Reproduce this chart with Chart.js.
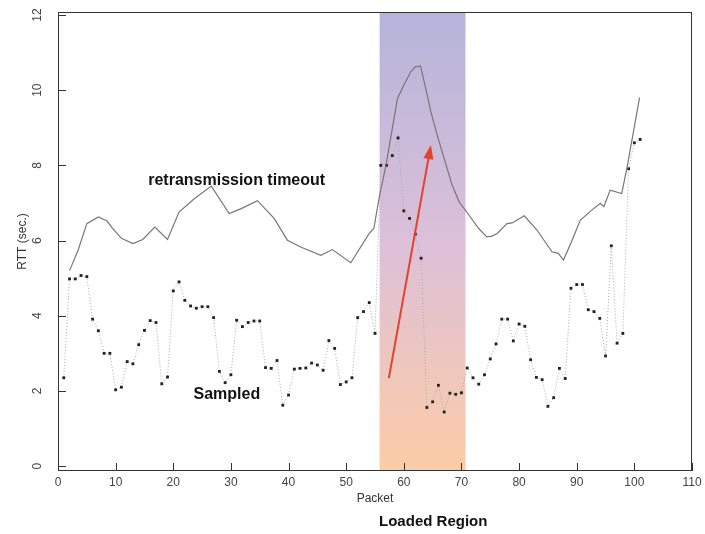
<!DOCTYPE html>
<html>
<head>
<meta charset="utf-8">
<script src="https://cdn.jsdelivr.net/npm/chart.js@4.4.1/dist/chart.umd.min.js"></script>
<style>
  html, body { margin: 0; padding: 0; background: #fff; }
  #wrap { width: 705px; height: 534px; }
</style>
</head>
<body>
<div id="wrap"><canvas id="rttChart" width="705" height="534"></canvas></div>
<script>
// sampled RTT, one value per packet
var packets = [1, 2, 3, 4, 5, 6, 7, 8, 9, 10, 11, 12, 13, 14, 15, 16, 17, 18, 19, 20,
  21, 22, 23, 24, 25, 26, 27, 28, 29, 30, 31, 32, 33, 34, 35, 36, 37, 38, 39, 40,
  41, 42, 43, 44, 45, 46, 47, 48, 49, 50, 51, 52, 53, 54, 55, 56, 57, 58, 59, 60,
  61, 62, 63, 64, 65, 66, 67, 68, 69, 70, 71, 72, 73, 74, 75, 76, 77, 78, 79, 80,
  81, 82, 83, 84, 85, 86, 87, 88, 89, 90, 91, 92, 93, 94, 95, 96, 97, 98, 99, 100, 101];
var sampled = [2.35, 4.98, 4.98, 5.07, 5.04, 3.91, 3.6, 3.0, 3.0, 2.03,
  2.1, 2.78, 2.72, 3.23, 3.61, 3.87, 3.82, 2.19, 2.37, 4.66,
  4.9, 4.41, 4.26, 4.2, 4.24, 4.24, 3.95, 2.52, 2.22, 2.43,
  3.88, 3.71, 3.82, 3.86, 3.86, 2.62, 2.6, 2.81, 1.62, 1.89,
  2.58, 2.6, 2.61, 2.74, 2.69, 2.55, 3.34, 3.13, 2.17, 2.24,
  2.35, 3.95, 4.11, 4.35, 3.53, 8.0, 8.0, 8.26, 8.73, 6.79,
  6.59, 6.17, 5.53, 1.56, 1.71, 2.15, 1.44, 1.94, 1.91, 1.95,
  2.61, 2.35, 2.18, 2.43, 2.85, 3.25, 3.91, 3.91, 3.33, 3.78,
  3.72, 2.83, 2.36, 2.3, 1.59, 1.82, 2.6, 2.33, 4.73, 4.83,
  4.83, 4.16, 4.11, 3.93, 2.93, 5.86, 3.27, 3.53, 7.91, 8.6, 8.69];

// retransmission timeout curve, read at its corners
var rtoPackets = [2, 3.5, 5, 7, 8.5, 9.5, 11, 13, 14.7, 16.8, 19, 21, 23.7, 26.6, 29.7,
  31.8, 34.6, 37.5, 39.8, 42.1, 45.6, 47.6, 50.8, 54, 54.8, 55.7, 56.9, 58, 58.9, 60,
  61.2, 62, 62.9, 63.8, 64.7, 65.8, 67, 68.4, 69.6, 71.3, 73, 74.4, 75.3, 76.2, 77.9,
  78.8, 80.9, 83.1, 85.7, 86.8, 87.7, 89.2, 90.6, 92.6, 94.1, 94.7, 95.8, 97.8, 98.7, 100.9];
var rtoValues = [5.2, 5.75, 6.45, 6.63, 6.52, 6.32, 6.06, 5.92, 6.03, 6.36, 6.03, 6.76, 7.12, 7.45, 6.72,
  6.85, 7.06, 6.59, 6.01, 5.83, 5.61, 5.76, 5.41, 6.19, 6.32, 7.12, 8.0, 8.98, 9.78, 10.13,
  10.49, 10.62, 10.64, 10.05, 9.42, 8.8, 8.18, 7.47, 7.03, 6.68, 6.32, 6.1, 6.12, 6.19, 6.45,
  6.47, 6.66, 6.28, 5.7, 5.66, 5.48, 6.01, 6.54, 6.81, 6.99, 6.9, 7.34, 7.25, 7.92, 9.8];

var xTicks = [0, 10, 20, 30, 40, 50, 60, 70, 80, 90, 100, 110];
var yTicks = [0, 2, 4, 6, 8, 10, 12];
var loadedRegion = [55.8, 70.7];
var arrowFrom = [57.4, 2.34];
var arrowTo = [64.7, 8.54];

var sampledPts = packets.map(function (p, i) { return { x: p, y: sampled[i] }; });
var rtoPts = rtoPackets.map(function (p, i) { return { x: p, y: rtoValues[i] }; });

var annotate = {
  id: "annotate",
  beforeDatasetsDraw: function (chart) {
    var ctx = chart.ctx, a = chart.chartArea, xs = chart.scales.x;
    var x0 = xs.getPixelForValue(loadedRegion[0]);
    var x1 = xs.getPixelForValue(loadedRegion[1]);
    var g = ctx.createLinearGradient(0, a.top, 0, a.bottom);
    g.addColorStop(0, "#b4b4da");
    g.addColorStop(0.5, "#dcc0d9");
    g.addColorStop(1, "#fdcca6");
    ctx.save();
    ctx.fillStyle = g;
    ctx.fillRect(x0, a.top, x1 - x0, a.bottom - a.top);
    ctx.restore();
  },
  afterDraw: function (chart) {
    var ctx = chart.ctx, a = chart.chartArea;
    var xs = chart.scales.x, ys = chart.scales.y;
    ctx.save();
    // frame and inward ticks
    ctx.strokeStyle = "#333";
    ctx.lineWidth = 1;
    ctx.strokeRect(a.left + 0.5, a.top + 0.5, a.right - a.left - 1, a.bottom - a.top - 1);
    ctx.beginPath();
    xTicks.forEach(function (v) {
      var px = Math.round(xs.getPixelForValue(v)) + 0.5;
      ctx.moveTo(px, a.bottom);
      ctx.lineTo(px, a.bottom - 8);
    });
    yTicks.forEach(function (v) {
      var py = Math.round(ys.getPixelForValue(v)) + 0.5;
      ctx.moveTo(a.left, py);
      ctx.lineTo(a.left + 8, py);
    });
    ctx.stroke();

    // red arrow
    var ax = xs.getPixelForValue(arrowFrom[0]), ay = ys.getPixelForValue(arrowFrom[1]);
    var bx = xs.getPixelForValue(arrowTo[0]), by = ys.getPixelForValue(arrowTo[1]);
    var ang = Math.atan2(by - ay, bx - ax);
    ctx.strokeStyle = "#e5412d";
    ctx.fillStyle = "#e5412d";
    ctx.lineWidth = 2;
    ctx.beginPath();
    ctx.moveTo(ax, ay);
    ctx.lineTo(bx - 10 * Math.cos(ang), by - 10 * Math.sin(ang));
    ctx.stroke();
    ctx.beginPath();
    ctx.moveTo(bx, by);
    ctx.lineTo(bx - 14 * Math.cos(ang) + 5 * Math.sin(ang), by - 14 * Math.sin(ang) - 5 * Math.cos(ang));
    ctx.lineTo(bx - 14 * Math.cos(ang) - 5 * Math.sin(ang), by - 14 * Math.sin(ang) + 5 * Math.cos(ang));
    ctx.closePath();
    ctx.fill();

    // labels
    ctx.fillStyle = "#111";
    ctx.textAlign = "center";
    ctx.textBaseline = "middle";
    ctx.font = "bold 16px 'Liberation Sans', Arial, sans-serif";
    ctx.fillText("retransmission timeout", xs.getPixelForValue(31), ys.getPixelForValue(7.6));
    ctx.fillText("Sampled", xs.getPixelForValue(29.3), ys.getPixelForValue(1.89));
    ctx.font = "bold 15px 'Liberation Sans', Arial, sans-serif";
    ctx.fillText("Loaded Region", xs.getPixelForValue(65.1), a.bottom + 51);
    ctx.restore();
  }
};

var ctxR = document.getElementById("rttChart").getContext("2d");
var rttChart = new Chart(ctxR, {
  type: "line",
  data: {
    datasets: [
      {
        label: "retransmission timeout",
        data: rtoPts,
        borderColor: "#777",
        borderWidth: 1.2,
        pointRadius: 0,
        tension: 0,
      },
      {
        label: "Sampled",
        data: sampledPts,
        borderColor: "#aaa",
        borderWidth: 1,
        borderDash: [1, 2],
        pointStyle: "rect",
        pointRadius: 2,
        pointBackgroundColor: "#222",
        pointBorderWidth: 0,
        tension: 0,
      },
    ],
  },
  options: {
    responsive: false,
    animation: false,
    layout: { padding: { top: 12, right: 13, left: 0, bottom: 0 } },
    plugins: { legend: { display: false }, tooltip: { enabled: false } },
    scales: {
      x: {
        type: "linear",
        min: 0,
        max: 110,
        afterBuildTicks: function (s) { s.ticks = xTicks.map(function (v) { return { value: v }; }); },
        afterFit: function (s) { s.height = 63; s.paddingLeft = 0; s.paddingRight = 0; },
        grid: { display: false, drawTicks: false },
        border: { display: false },
        ticks: { color: "#444", padding: 4, maxRotation: 0, font: { family: "'Liberation Sans', Arial", size: 12 } },
        title: {
          display: true,
          text: "Packet",
          color: "#333",
          padding: { top: 0, bottom: 28 },
          font: { family: "'Liberation Sans', Arial", size: 12 },
        },
      },
      y: {
        min: -0.13,
        max: 12.08,
        afterBuildTicks: function (s) { s.ticks = yTicks.map(function (v) { return { value: v }; }); },
        afterFit: function (s) { s.width = 58; s.paddingTop = 0; s.paddingBottom = 0; },
        grid: { display: false, drawTicks: false },
        border: { display: false },
        ticks: {
          color: "#444",
          padding: 14,
          minRotation: 90,
          maxRotation: 90,
          crossAlign: "center",
          font: { family: "'Liberation Sans', Arial", size: 12 },
        },
        title: {
          display: true,
          text: "RTT (sec.)",
          color: "#333",
          padding: { top: 15, bottom: 0 },
          font: { family: "'Liberation Sans', Arial", size: 12 },
        },
      },
    },
  },
  plugins: [annotate],
});
</script>
</body>
</html>
